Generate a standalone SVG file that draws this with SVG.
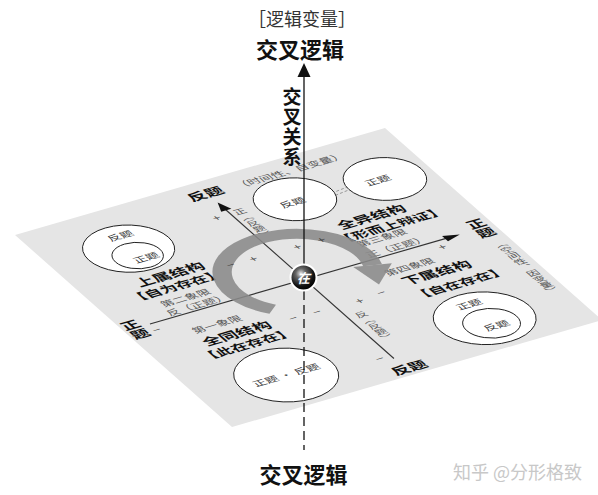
<svg xmlns="http://www.w3.org/2000/svg" width="598" height="495" viewBox="0 0 598 495">
<defs>
<radialGradient id="ballg" cx="0.4" cy="0.35" r="0.65">
<stop offset="0" stop-color="#e8e8e8"/>
<stop offset="0.3" stop-color="#666"/>
<stop offset="0.75" stop-color="#111"/>
<stop offset="1" stop-color="#000"/>
</radialGradient>
<style>
text{font-family:"Noto Sans CJK SC","Noto Sans",sans-serif;text-anchor:middle;}
.b{font-weight:bold;fill:#111;}
.b16{font-size:18px;}
.b15{font-size:16.5px;}
.vt{writing-mode:vertical-rl;}
.g{fill:#555;font-size:13px;}
.gv{fill:#555;font-size:12px;writing-mode:vertical-rl;}
.c{fill:#333;font-size:13px;}
.m{fill:#333;font-size:14px;}
.ln{stroke:#333;stroke-width:1.1;fill:none;vector-effect:non-scaling-stroke;}
.dl{stroke:#333;stroke-width:0.9;fill:none;stroke-dasharray:2 2;vector-effect:non-scaling-stroke;}
.cir{fill:#fff;stroke:#222;stroke-width:1;vector-effect:non-scaling-stroke;}
.ah{fill:#111;}
</style>
</defs>
<rect width="598" height="495" fill="#fff"/>

<g id="plane" transform="matrix(0.925,-0.2675,0.5425,0.48,15,235)">
  <polygon points="0,0 400,0 400,400 0,400" fill="#e5e5e5"/>

  <g id="connectors-plane">
    <line class="ln" x1="28" y1="201" x2="350" y2="201"/>
    <polygon class="ah" points="363,201 347,195.5 347,206.5"/>
    <line class="ln" x1="195" y1="55" x2="195" y2="366"/>
    <polygon class="ah" points="195,41 189.5,57 200.5,57"/>
    <line class="dl" x1="82" y1="56" x2="82" y2="73"/>
    <polygon class="ah" points="82,79 78.5,72 85.5,72"/>
    <line class="dl" x1="306" y1="330" x2="306" y2="348"/>
    <polygon class="ah" points="306,323 302.5,330 309.5,330"/>
    <line x1="291" y1="79" x2="318" y2="75" stroke="#999" stroke-width="1" stroke-dasharray="3 2" vector-effect="non-scaling-stroke"/>
    <line x1="292" y1="84" x2="319" y2="80" stroke="#999" stroke-width="1" stroke-dasharray="3 2" vector-effect="non-scaling-stroke"/>
    <polygon class="ah" points="289,86 285,80 292,80"/>
    <polygon class="ah" points="322,77 318,71 325,71"/>
  </g>

  <g id="node-top-fanti">
    <circle class="cir" cx="261" cy="71" r="39"/>
    <text class="c" x="256" y="80">反题</text>
  </g>
  <g id="node-top-zhengti">
    <circle class="cir" cx="353" cy="80" r="39"/>
    <text class="c" x="346" y="84">正题</text>
  </g>
  <g id="node-left-nested">
    <circle class="cir" cx="80" cy="73" r="43"/>
    <circle class="cir" cx="81" cy="88" r="24" fill="none"/>
    <text class="c" x="85" y="54">反题</text>
    <text class="c" x="86" y="100">正题</text>
  </g>
  <g id="node-bottom-same">
    <circle class="cir" cx="92" cy="343" r="49"/>
    <text class="c" x="92" y="348">正题 · 反题</text>
  </g>
  <g id="node-right-nested">
    <circle class="cir" cx="306" cy="344" r="48"/>
    <circle class="cir" cx="307" cy="355" r="27" fill="none"/>
    <text class="c" x="306" y="320">正题</text>
    <text class="c" x="309" y="366">反题</text>
  </g>

  <g id="labels-gray">
    <text class="g" x="283" y="29">（时间性、自变量）</text>
    <text class="g" x="81" y="181">第二象限</text>
    <text class="g" x="84" y="198">反（正题）</text>
    <text class="g" x="82" y="237">第一象限</text>
    <text class="g" x="296" y="176">第三象限</text>
    <text class="g" x="300" y="197">正（正题）</text>
    <text class="g" x="292" y="234">第四象限</text>
    <text class="gv" x="205" y="89">正（反题）</text>
    <text class="gv" x="209" y="306">反（反题）</text>
    <text class="gv" x="387" y="283">（空间性、因变量）</text>
  </g>

  <g id="labels-bold">
    <text class="b b16" x="193" y="29">反题</text>
    <text class="b b16" x="199" y="394">反题</text>
    <text class="b vt" style="font-size:18px" x="386" y="201">正题</text>
    <text class="b vt" style="font-size:18px" x="11" y="203">正题</text>
    <text class="b b16" x="90" y="139">上属结构</text>
    <text class="b b15" x="84" y="160">【自为存在】</text>
    <text class="b b16" x="90" y="262">全同结构</text>
    <text class="b b15" x="88" y="284">【此在存在】</text>
    <text class="b b16" x="307" y="140">全异结构</text>
    <text class="b b15" x="315" y="162">【形而上辩证】</text>
    <text class="b b16" x="309" y="257">下属结构</text>
    <text class="b b15" x="318" y="284">【自在存在】</text>
  </g>

  <g id="cycle-arrow" fill="#8a8a8a" opacity="0.88">
    <path d="M141.6,233.6 A71,71 0 1 1 263.5,209.9" fill="none" stroke="#8a8a8a" stroke-width="18"/>
    <polygon points="246,204 281,215.5 251,243"/>
  </g>

  <g id="signs">
    <text class="m" x="180" y="70">+</text>
    <text class="m" x="148" y="150">−</text>
    <text class="m" x="172" y="151">+</text>
    <text class="m" x="219" y="152">+</text>
    <text class="m" x="245" y="152">+</text>
    <text class="m" x="150" y="262">−</text>
    <text class="m" x="175" y="263">−</text>
    <text class="m" x="220" y="265">+</text>
    <text class="m" x="245" y="262">−</text>
    <text class="m" x="337" y="218">+</text>
    <text class="m" x="28" y="218.5">−</text>
    <text class="m" x="183" y="365">−</text>
  </g>
</g>

<g id="connectors">
  <line x1="304" y1="76" x2="304" y2="266" stroke="#111" stroke-width="1.3"/>
  <polygon points="304,63 297.5,77 310.5,77" fill="#111"/>
  <line x1="304" y1="291" x2="304" y2="450" stroke="#111" stroke-width="1.3" stroke-dasharray="9 5"/>
</g>

<g id="node-center">
  <circle cx="303.5" cy="277.5" r="13" fill="url(#ballg)" stroke="#fff" stroke-width="2"/>
  <text x="303.5" y="282.5" style="font-size:13px;font-weight:bold;fill:#fff;font-style:italic">在</text>
</g>

<g id="titles">
  <text x="302" y="26" style="font-size:18px;fill:#333">［逻辑变量］</text>
  <text x="300" y="58" class="b" style="font-size:22px">交叉逻辑</text>
  <text x="292" y="87" class="b" style="font-size:19px;writing-mode:vertical-rl;text-anchor:start;letter-spacing:1px">交叉关系</text>
  <text x="303.5" y="483" class="b" style="font-size:22px">交叉逻辑</text>
  <text x="453" y="479" style="font-size:18px;fill:#c8c8c8;text-anchor:start">知乎 @分形格致</text>
</g>
</svg>
